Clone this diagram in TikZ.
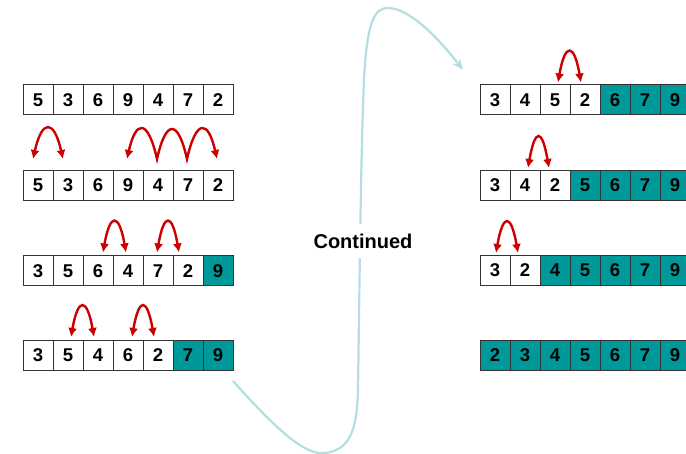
\documentclass[tikz,border=0pt]{standalone}
\usepackage{fontspec}
\setmainfont{Liberation Sans}
\usetikzlibrary{arrows.meta}
\definecolor{tealc}{HTML}{009999}
\definecolor{redc}{HTML}{CC0000}
\definecolor{curvec}{HTML}{B4DEE2}
\tikzset{
  cw/.style={draw=black!80, line width=1pt, fill=white, minimum width=30pt, minimum height=30pt, inner sep=0pt, font=\fontsize{18.5}{18.5}\selectfont\bfseries},
  ct/.style={cw, fill=tealc},
  swap/.style={draw=redc, line width=2.4pt, {Latex[length=9pt,width=9pt]}-{Latex[length=9pt,width=9pt]}},
  flow/.style={draw=curvec, line width=2.2pt, -{Stealth[length=11pt,width=9pt]}},
}
\begin{document}
\begin{tikzpicture}[x=1pt,y=-1pt]
\useasboundingbox (0,0) rectangle (686,454);
% left rows
\foreach \v/\s [count=\i] in {5/cw,3/cw,6/cw,9/cw,4/cw,7/cw,2/cw}
  \node[\s] (L1c\i) at (8+30*\i,100) {\v};
\foreach \v/\s [count=\i] in {5/cw,3/cw,6/cw,9/cw,4/cw,7/cw,2/cw}
  \node[\s] (L2c\i) at (8+30*\i,185.5) {\v};
\foreach \v/\s [count=\i] in {3/cw,5/cw,6/cw,4/cw,7/cw,2/cw,9/ct}
  \node[\s] (L3c\i) at (8+30*\i,271) {\v};
\foreach \v/\s [count=\i] in {3/cw,5/cw,4/cw,6/cw,2/cw,7/ct,9/ct}
  \node[\s] (L4c\i) at (8+30*\i,355.5) {\v};
% right rows
\foreach \v/\s [count=\i] in {3/cw,4/cw,5/cw,2/cw,6/ct,7/ct,9/ct}
  \node[\s] (R1c\i) at (465+30*\i,100) {\v};
\foreach \v/\s [count=\i] in {3/cw,4/cw,2/cw,5/ct,6/ct,7/ct,9/ct}
  \node[\s] (R2c\i) at (465+30*\i,185.5) {\v};
\foreach \v/\s [count=\i] in {3/cw,2/cw,4/ct,5/ct,6/ct,7/ct,9/ct}
  \node[\s] (R3c\i) at (465+30*\i,270.5) {\v};
\foreach \v/\s [count=\i] in {2/ct,3/ct,4/ct,5/ct,6/ct,7/ct,9/ct}
  \node[\s] (R4c\i) at (465+30*\i,355.5) {\v};
% swap arrows, left
\draw[swap] ([xshift=-5pt,yshift=11pt]L2c1.north) .. controls +(9,-40) and +(-9,-40) .. ([xshift=-5pt,yshift=11pt]L2c2.north);
\draw[swap] ([xshift=-1pt,yshift=11pt]L2c4.north) .. controls +(9,-40) and +(-9,-40) .. ([xshift=-1pt,yshift=11pt]L2c5.north)
  .. controls +(9,-40) and +(-9,-40) .. ([xshift=-1pt,yshift=11pt]L2c6.north)
  .. controls +(9,-40) and +(-9,-40) .. ([xshift=-1pt,yshift=11pt]L2c7.north);
\draw[swap] ([xshift=5pt,yshift=3pt]L3c3.north) .. controls +(7,-40) and +(-7,-40) .. ([xshift=-2pt,yshift=3pt]L3c4.north);
\draw[swap] ([xshift=-1pt,yshift=3pt]L3c5.north) .. controls +(7,-40) and +(-7,-40) .. ([xshift=-9pt,yshift=3pt]L3c6.north);
\draw[swap] ([xshift=3pt,yshift=3pt]L4c2.north) .. controls +(7,-40) and +(-7,-40) .. ([xshift=-4pt,yshift=3pt]L4c3.north);
\draw[swap] ([xshift=4pt,yshift=3pt]L4c4.north) .. controls +(7,-40) and +(-7,-40) .. ([xshift=-4pt,yshift=3pt]L4c5.north);
% swap arrows, right
\draw[swap] ([xshift=3pt,yshift=2pt]R1c3.north) .. controls +(7,-40) and +(-7,-40) .. ([xshift=-4pt,yshift=2pt]R1c4.north);
\draw[swap] ([xshift=3pt,yshift=2pt]R2c2.north) .. controls +(7,-40) and +(-7,-40) .. ([xshift=-6pt,yshift=2pt]R2c3.north);
\draw[swap] ([xshift=1pt,yshift=2pt]R3c1.north) .. controls +(7,-40) and +(-7,-40) .. ([xshift=-7pt,yshift=2pt]R3c2.north);
% continuation curve
\coordinate (cs) at (233,381);
\coordinate (ce) at (463,70);
\draw[flow] (cs) .. controls (275,428) and (305,456) .. (325,453)
  .. controls (350,450) and (357,430) .. (358,390)
  .. controls (360,250) and (361,150) .. (364,80)
  .. controls (367,20) and (375,8) .. (388,8)
  .. controls (410,8) and (440,40) .. (ce);
\node[fill=white, inner xsep=3pt, inner ysep=10pt, font=\fontsize{20}{20}\selectfont\bfseries] (cont) at (363,241) {Continued};
\end{tikzpicture}
\end{document}
